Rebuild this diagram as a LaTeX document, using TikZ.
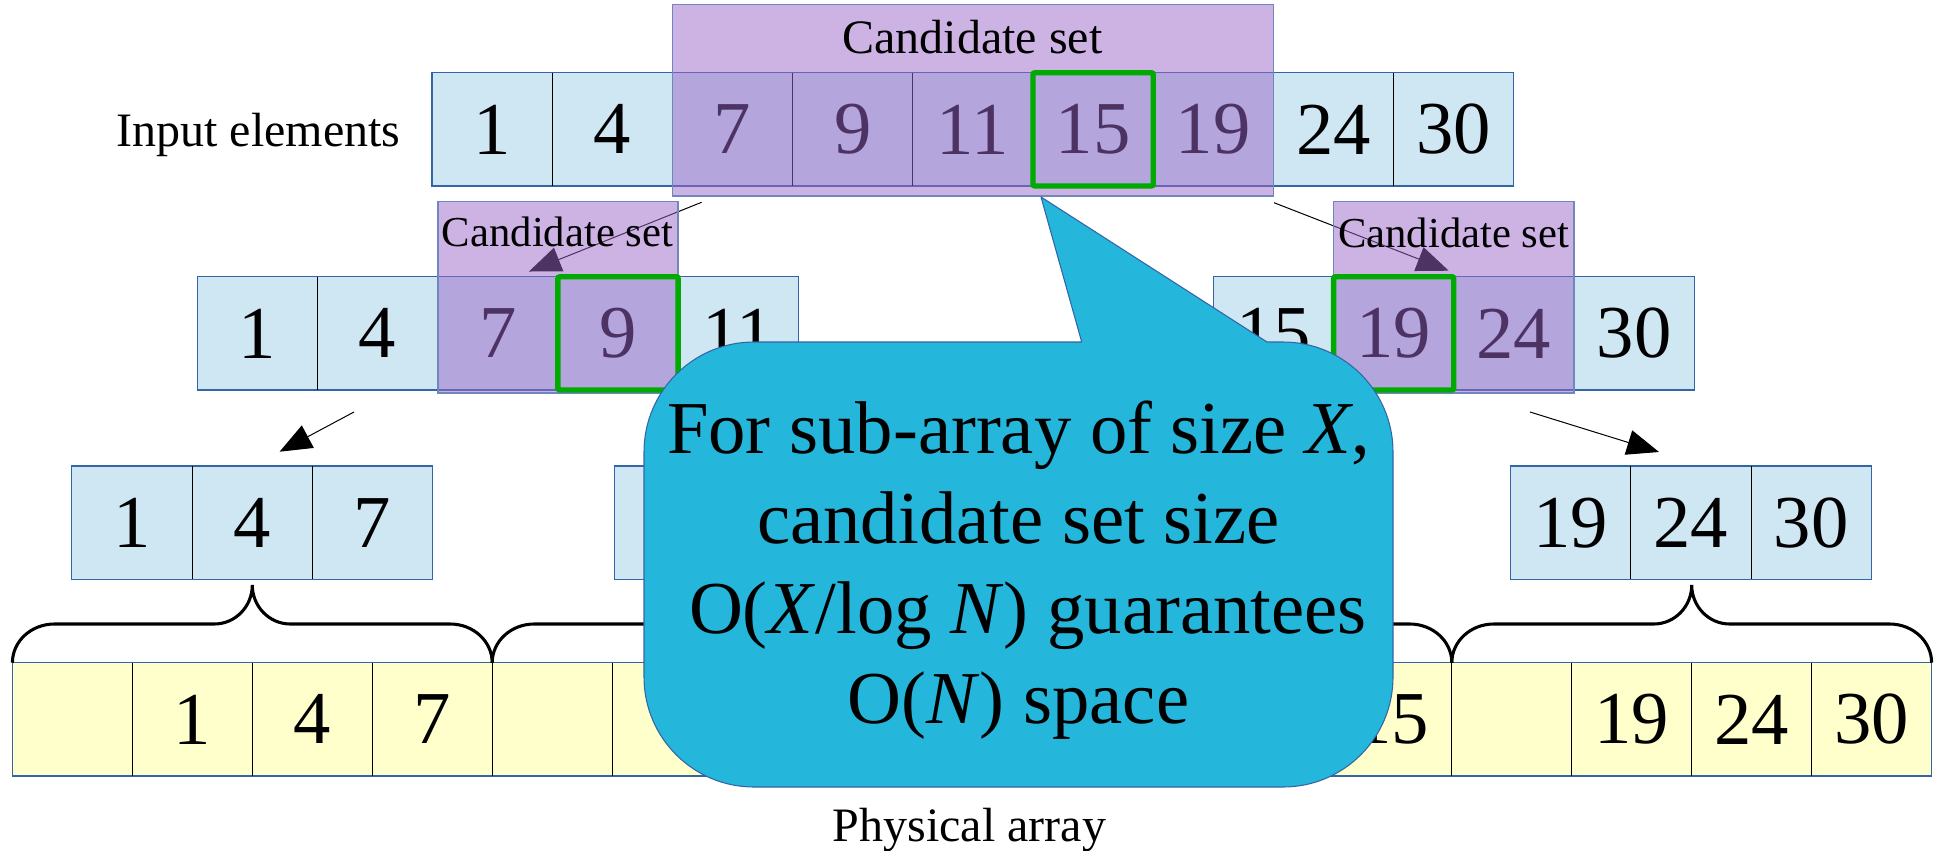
\documentclass[tikz,border=0pt]{standalone}
\usepackage{fontspec}
\setmainfont{Liberation Serif}
\usetikzlibrary{arrows.meta}
\definecolor{cellblue}{RGB}{207,230,243}
\definecolor{edgeblue}{RGB}{52,101,164}
\definecolor{candpurple}{RGB}{155,101,201}
\definecolor{candedge}{RGB}{110,135,190}
\definecolor{physyellow}{RGB}{255,255,204}
\definecolor{selgreen}{RGB}{0,170,0}
\definecolor{calloutcyan}{RGB}{37,182,220}
\begin{document}
\begin{tikzpicture}[x=0.75pt,y=-0.75pt,
  cell/.style={fill=cellblue, minimum width=90.15pt, minimum height=85pt, inner sep=0pt, outer sep=0pt, font=\fontsize{56}{60}\selectfont},
  pcell/.style={cell, fill=physyellow, minimum width=89.96pt},
  outline/.style={draw=edgeblue, line width=1pt},
  divider/.style={draw=black, line width=0.6pt},
  candbox/.style={fill=candpurple, fill opacity=0.5, draw=candedge, draw opacity=1, line width=1.2pt, inner sep=0pt, outer sep=0pt},
  candlabel/.style={anchor=base, font=\fontsize{32}{36}\selectfont},
  selbox/.style={draw=selgreen, line width=4pt, rounded corners=1.5pt},
  link/.style={draw=black, line width=0.75pt, -{Triangle[length=24pt,width=19pt]}},
  brace/.style={draw=black, line width=2.3pt},
  calltext/.style={anchor=base, font=\fontsize{56}{67.5}\selectfont},
  label/.style={anchor=base, font=\fontsize{36}{40}\selectfont}
]
\useasboundingbox (0,0) rectangle (1941,850);

% ---- row 1: input elements
\foreach \v [count=\i from 0] in {1,4,7,9,11,15,19,24,30}
  \node[cell] (a\i) at ({432+120.2*(\i+0.5)},129.35) {\v};
\draw[outline] (a0.north west) rectangle (a8.south east);
\foreach \i in {1,...,8} \draw[divider] (a\i.north west) -- (a\i.south west);
\node[label] (inlab) at (258.5,146) {Input elements};

% ---- row 2 left
\foreach \v [count=\i from 0] in {1,4,7,9,11}
  \node[cell] (b\i) at ({197.3+120.2*(\i+0.5)},333.35) {\v};
\draw[outline] (b0.north west) rectangle (b4.south east);
\foreach \i in {1,...,4} \draw[divider] (b\i.north west) -- (b\i.south west);

% ---- row 2 right
\foreach \v [count=\i from 0] in {15,19,24,30}
  \node[cell] (c\i) at ({1213.4+120.2*(\i+0.5)},333.35) {\v};
\draw[outline] (c0.north west) rectangle (c3.south east);
\foreach \i in {1,...,3} \draw[divider] (c\i.north west) -- (c\i.south west);

% ---- row 3
\foreach \v [count=\i from 0] in {1,4,7}
  \node[cell] (d\i) at ({71.8+120.2*(\i+0.5)},522.65) {\v};
\draw[outline] (d0.north west) rectangle (d2.south east);
\foreach \i in {1,2} \draw[divider] (d\i.north west) -- (d\i.south west);

\foreach \i in {0,1,2}
  \node[cell] (e\i) at ({614.3+120.2*(\i+0.5)},522.65) {};
\draw[outline] (e0.north west) rectangle (e2.south east);
\foreach \i in {1,2} \draw[divider] (e\i.north west) -- (e\i.south west);

\foreach \v [count=\i from 0] in {19,24,30}
  \node[cell] (f\i) at ({1510.6+120.2*(\i+0.5)},522.65) {\v};
\draw[outline] (f0.north west) rectangle (f2.south east);
\foreach \i in {1,2} \draw[divider] (f\i.north west) -- (f\i.south west);

% ---- physical array
\foreach \v [count=\i from 0] in {{},1,4,7,{},{},{},{},{},{},{},15,{},19,24,30}
  \node[pcell] (p\i) at ({12.4+119.95*(\i+0.5)},719.35) {\v};
\draw[outline] (p0.north west) rectangle (p15.south east);
\foreach \i in {1,...,15} \draw[divider] (p\i.north west) -- (p\i.south west);
\node[label] (phlab) at (969.5,841.7) {Physical array};

% ---- braces
\foreach \bx in {12.4,492.2,972.0,1451.8} {
  \pgfmathsetmacro\bxc{\bx+239.9}
  \pgfmathsetmacro\bxe{\bx+479.8}
  \draw[brace] (\bx,662.7) .. controls (\bx,641.3) and ({\bx+18.8},624) .. ({\bx+42},624)
    -- ({\bxc-38},624) .. controls ({\bxc-17},624) and (\bxc,606.5) .. (\bxc,585)
    .. controls (\bxc,606.5) and ({\bxc+17},624) .. ({\bxc+38},624)
    -- ({\bxe-42},624) .. controls ({\bxe-18.8},624) and (\bxe,641.3) .. (\bxe,662.7);
}

% ---- arrows
\coordinate (s1) at (701.6,202.3);
\coordinate (t1) at (529,271.5);
\coordinate (s2) at (1274,202.7);
\coordinate (t2) at (1448.7,270.7);
\coordinate (s3) at (354,412);
\coordinate (t3) at (279.6,451.7);
\coordinate (s4) at (1530,412);
\coordinate (t4) at (1659,452);
\draw[link] (s1) -- (t1);
\draw[link] (s2) -- (t2);
\draw[link] (s3) -- (t3);
\draw[link] (s4) -- (t4);

% ---- candidate sets
\node[candbox, minimum width=450.75pt, minimum height=143.5pt] (candA) at (972.9,100.35) {};
\node[candbox, minimum width=180.3pt, minimum height=143.55pt] (candB) at (557.9,297) {};
\node[candbox, minimum width=180.3pt, minimum height=143.55pt] (candC) at (1453.8,297) {};
\node[label] (candAl) at (972.5,53) {Candidate set};
\node[candlabel] (candBl) at (557.5,246.7) {Candidate set};
\node[candlabel] (candCl) at (1453.6,247) {Candidate set};

% ---- selected elements
\draw[selbox] (a5.north west) rectangle (a5.south east);
\draw[selbox] (b3.north west) rectangle (b3.south east);
\draw[selbox] (c1.north west) rectangle (c1.south east);

% ---- callout
\fill[calloutcyan] (644,560) -- (644,452) .. controls (644,391.25) and (693.25,342) .. (754,342)
  -- (1081.7,342) -- (1041,197) -- (1267,342) -- (1283,342)
  .. controls (1343.75,342) and (1393,391.25) .. (1393,452) -- (1393,677)
  .. controls (1393,737.75) and (1343.75,787) .. (1283,787) -- (754,787)
  .. controls (693.25,787) and (644,737.75) .. (644,677) -- cycle;
\draw[edgeblue, line width=0.8pt, line join=round] (644,560) -- (644,452) .. controls (644,391.25) and (693.25,342) .. (754,342)
  -- (1081.7,342) -- (1041,197) -- (1267,342) -- (1283,342)
  .. controls (1343.75,342) and (1393,391.25) .. (1393,452) -- (1393,677)
  .. controls (1393,737.75) and (1343.75,787) .. (1283,787) -- (754,787)
  .. controls (693.25,787) and (644,737.75) .. (644,677) -- cycle;
\node[calltext] (cl1) at (1018.5,453.3) {For sub-array of size \textit{X},};
\node[calltext] (cl2) at (1018.5,543.3) {candidate set size};
\node[calltext] (cl3) at (1018.5,633.3) {\hspace*{0.25em}O(\textit{X}/log \textit{N}) guarantees};
\node[calltext] (cl4) at (1018.5,723.3) {O(\textit{N}) space};
\end{tikzpicture}
\end{document}
